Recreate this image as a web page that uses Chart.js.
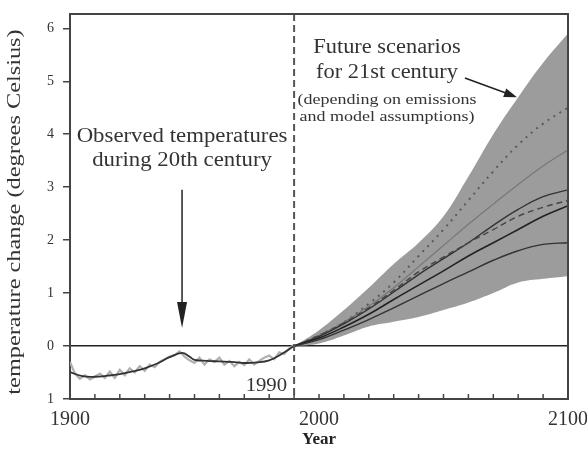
<!DOCTYPE html>
<html>
<head>
<meta charset="utf-8">
<title>Temperature change</title>
<script src="https://cdn.jsdelivr.net/npm/chart.js@4.4.0/dist/chart.umd.min.js"></script>
<style>
  body { margin: 0; background: #fff; }
</style>
</head>
<body>
<canvas id="tempChart" width="587" height="450"></canvas>
<script>
// observed record (rough yearly values, every 2 years)
var obsYears = [1900,1902,1904,1906,1908,1910,1912,1914,1916,1918,1920,1922,1924,1926,1928,1930,
  1932,1934,1936,1938,1940,1942,1944,1946,1948,1950,1952,1954,1956,1958,1960,1962,1964,1966,1968,
  1970,1972,1974,1976,1978,1980,1982,1984,1986,1988,1990];
var obsValues = [-0.30,-0.52,-0.62,-0.55,-0.63,-0.58,-0.52,-0.60,-0.48,-0.60,-0.45,-0.55,-0.42,-0.50,
  -0.38,-0.47,-0.35,-0.40,-0.30,-0.25,-0.20,-0.18,-0.10,-0.20,-0.27,-0.32,-0.22,-0.35,-0.25,-0.30,
  -0.22,-0.35,-0.28,-0.38,-0.30,-0.36,-0.25,-0.35,-0.28,-0.22,-0.18,-0.25,-0.12,-0.15,-0.05,0.02];

// smoothed observed curve
var smoothYears = [1900,1905,1910,1915,1920,1925,1930,1935,1940,1945,1948,1950,1955,1960,1965,1970,1975,1980,1985,1990];
var smoothValues = [-0.49,-0.57,-0.58,-0.56,-0.53,-0.48,-0.42,-0.33,-0.21,-0.13,-0.20,-0.26,-0.28,-0.29,-0.30,-0.32,-0.31,-0.27,-0.15,0.0];

// projections 1990-2100
var projYears = [1990,2000,2010,2020,2030,2040,2050,2060,2070,2080,2090,2100];
var bandLow  = [0, 0.05, 0.20, 0.37, 0.46, 0.55, 0.68, 0.82, 1.00, 1.20, 1.27, 1.32];
var bandHigh = [0, 0.30, 0.68, 1.10, 1.55, 1.95, 2.45, 3.20, 4.00, 4.70, 5.35, 5.90];
var scenDotted = [0, 0.20, 0.45, 0.80, 1.20, 1.70, 2.20, 2.75, 3.30, 3.80, 4.20, 4.50];
var scenLight  = [0, 0.20, 0.45, 0.75, 1.10, 1.50, 1.90, 2.30, 2.68, 3.05, 3.40, 3.70];
var scenTop    = [0, 0.18, 0.42, 0.70, 1.02, 1.35, 1.65, 1.95, 2.28, 2.58, 2.82, 2.95];
var scenDashed = [0, 0.20, 0.44, 0.72, 1.05, 1.40, 1.68, 1.95, 2.20, 2.45, 2.62, 2.75];
var scenMid    = [0, 0.15, 0.36, 0.60, 0.88, 1.15, 1.42, 1.70, 1.95, 2.20, 2.45, 2.65];
var scenLow    = [0, 0.12, 0.30, 0.50, 0.72, 0.95, 1.18, 1.40, 1.62, 1.80, 1.92, 1.95];

var yTicks = [-1, 0, 1, 2, 3, 4, 5, 6];
var xLabelYears = [1900, 2000, 2100];

function pts(xs, ys) {
  return xs.map(function(x, i) { return {x: x, y: ys[i]}; });
}

function line(data, color, width, dash, tension) {
  return {
    data: data, borderColor: color, borderWidth: width, borderDash: dash || [],
    pointRadius: 0, fill: false, tension: tension === undefined ? 0.4 : tension
  };
}

function arrow(ctx, x1, y1, x2, y2, len, half) {
  var ang = Math.atan2(y2 - y1, x2 - x1);
  ctx.beginPath();
  ctx.moveTo(x1, y1);
  ctx.lineTo(x2 - Math.cos(ang) * len * 0.8, y2 - Math.sin(ang) * len * 0.8);
  ctx.stroke();
  ctx.beginPath();
  ctx.moveTo(x2, y2);
  ctx.lineTo(x2 - Math.cos(ang) * len + Math.sin(ang) * half, y2 - Math.sin(ang) * len - Math.cos(ang) * half);
  ctx.lineTo(x2 - Math.cos(ang) * len - Math.sin(ang) * half, y2 - Math.sin(ang) * len + Math.cos(ang) * half);
  ctx.closePath();
  ctx.fill();
}

// text with a bit of horizontal stretch, like the scanned original
function wideText(ctx, text, x, y, sx, rot) {
  ctx.save();
  ctx.translate(x, y);
  if (rot) ctx.rotate(rot);
  ctx.scale(sx, 1);
  ctx.fillText(text, 0, 0);
  ctx.restore();
}

var serif = "'Liberation Serif', 'DejaVu Serif', serif";

var extras = {
  id: 'extras',
  afterDatasetsDraw: function(chart) {
    var ctx = chart.ctx, a = chart.chartArea, xs = chart.scales.x;
    ctx.save();
    // 1990 dashed marker
    var px = xs.getPixelForValue(1990);
    ctx.strokeStyle = '#555';
    ctx.lineWidth = 2;
    ctx.setLineDash([7, 4]);
    ctx.beginPath();
    ctx.moveTo(px, a.top);
    ctx.lineTo(px, a.bottom);
    ctx.stroke();
    ctx.setLineDash([]);
    // frame top and right
    ctx.strokeStyle = '#444';
    ctx.beginPath();
    ctx.moveTo(a.left, a.top);
    ctx.lineTo(a.right, a.top);
    ctx.lineTo(a.right, a.bottom);
    ctx.stroke();
    // inward minor ticks every 10 years
    ctx.lineWidth = 1.5;
    for (var yr = 1910; yr < 2100; yr += 10) {
      var tx = xs.getPixelForValue(yr);
      ctx.beginPath();
      ctx.moveTo(tx, a.bottom);
      ctx.lineTo(tx, a.bottom - 5);
      ctx.stroke();
    }
    ctx.restore();
  },
  afterDraw: function(chart) {
    var ctx = chart.ctx, xs = chart.scales.x, ys = chart.scales.y, a = chart.chartArea;
    ctx.save();
    ctx.fillStyle = '#333';
    ctx.textAlign = 'center';
    ctx.textBaseline = 'middle';
    ctx.font = '20px ' + serif;
    var ox = xs.getPixelForValue(1945);
    wideText(ctx, 'Observed temperatures', ox, ys.getPixelForValue(3.96), 1.14);
    wideText(ctx, 'during 20th century', ox, ys.getPixelForValue(3.50), 1.14);
    var fx = xs.getPixelForValue(2027.3);
    wideText(ctx, 'Future scenarios', fx, ys.getPixelForValue(5.64), 1.12);
    wideText(ctx, 'for 21st century', fx, ys.getPixelForValue(5.17), 1.12);
    ctx.font = '15px ' + serif;
    wideText(ctx, '(depending on emissions', fx, ys.getPixelForValue(4.64), 1.2);
    wideText(ctx, 'and model assumptions)', fx, ys.getPixelForValue(4.32), 1.2);
    ctx.font = '18px ' + serif;
    wideText(ctx, '1990', xs.getPixelForValue(1988.5) - 24, ys.getPixelForValue(-0.76), 1.15);
    // y axis title
    ctx.font = '19px ' + serif;
    wideText(ctx, 'temperature change (degrees Celsius)', 15, 212, 1.28, -Math.PI / 2);
    // arrows
    ctx.strokeStyle = '#222';
    ctx.fillStyle = '#222';
    ctx.lineWidth = 1.5;
    arrow(ctx, ox, ys.getPixelForValue(2.95), ox, ys.getPixelForValue(0.34), 26, 5);
    arrow(ctx, xs.getPixelForValue(2058.6), ys.getPixelForValue(5.06),
      xs.getPixelForValue(2079.5), ys.getPixelForValue(4.70), 13, 4.5);
    ctx.restore();
  }
};

var ctx = document.getElementById('tempChart');
var tempChart = new Chart(ctx, {
  type: 'line',
  data: {
    datasets: [
      line(pts(smoothYears, smoothValues), '#333', 1.8),
      line(pts(obsYears, obsValues), '#b0b0b0', 2.2, [], 0),
      line(pts(projYears, scenLow), '#333', 1.4),
      line(pts(projYears, scenMid), '#222', 1.6),
      line(pts(projYears, scenDashed), '#444', 1.4, [6, 4]),
      line(pts(projYears, scenTop), '#333', 1.4),
      line(pts(projYears, scenLight), '#777', 1.2),
      line(pts(projYears, scenDotted), '#5a5a5a', 2, [2, 5]),
      { data: pts(projYears, bandLow), borderWidth: 0, pointRadius: 0, fill: false, tension: 0.4 },
      { data: pts(projYears, bandHigh), borderWidth: 0, pointRadius: 0, fill: '-1',
        backgroundColor: '#9c9c9c', tension: 0.4 }
    ]
  },
  options: {
    responsive: false,
    animation: false,
    layout: { padding: { top: 14, right: 19, left: 0, bottom: 0 } },
    plugins: { legend: { display: false }, tooltip: { enabled: false } },
    scales: {
      x: {
        type: 'linear', min: 1900, max: 2100,
        afterFit: function(s) { s.height = 51; s.paddingLeft = 0; s.paddingRight = 0; },
        afterBuildTicks: function(s) {
          s.ticks = xLabelYears.map(function(v) { return {value: v}; });
        },
        ticks: { color: '#333', padding: 9, maxRotation: 0, autoSkip: false,
          font: { family: serif, size: 20 },
          callback: function(v) { return String(v); } },
        grid: { display: true, drawOnChartArea: false, drawTicks: false },
        border: { display: true, color: '#444', width: 2 },
        title: { display: true, text: 'Year', color: '#222', padding: { top: 0, bottom: 0 },
          font: { family: serif, size: 17, weight: 'bold' } }
      },
      y: {
        min: -1, max: 6.27,
        afterFit: function(s) { s.width = 70; s.paddingTop = 0; s.paddingBottom = 0; },
        afterBuildTicks: function(s) {
          s.ticks = yTicks.map(function(v) { return {value: v}; });
        },
        ticks: { color: '#333', padding: 9, font: { family: serif, size: 14 },
          callback: function(v) { return String(Math.abs(v)); } },
        grid: {
          drawOnChartArea: true, tickLength: 7, tickColor: '#444', tickWidth: 1.5,
          color: function(c) { return c.tick && c.tick.value === 0 ? '#222' : 'rgba(0,0,0,0)'; },
          lineWidth: 1.5
        },
        border: { display: true, color: '#444', width: 2 }
      }
    }
  },
  plugins: [extras]
});
</script>
</body>
</html>
